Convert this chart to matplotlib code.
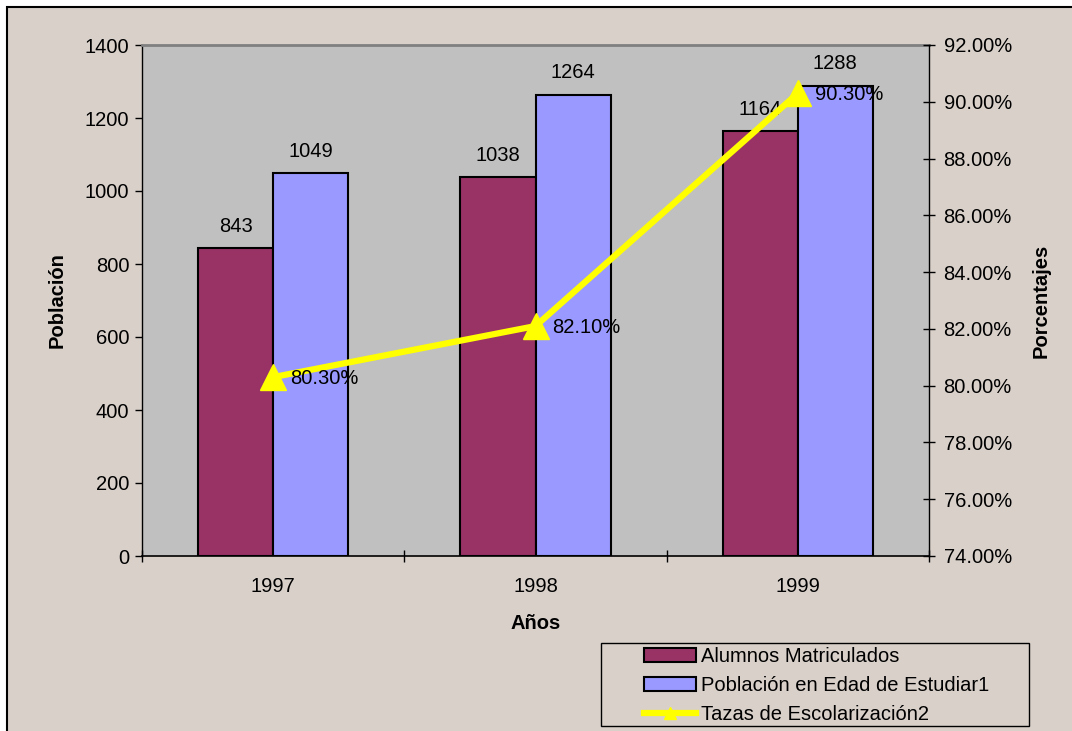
import numpy as np
import matplotlib.pyplot as plt
from matplotlib.patches import Rectangle
from matplotlib.lines import Line2D
from matplotlib.ticker import FixedLocator

plt.rcParams['font.family'] = ['Liberation Sans', 'DejaVu Sans']

years = ['1997', '1998', '1999']
matriculados = [843, 1038, 1164]
poblacion = [1049, 1264, 1288]
tasas = [80.30, 82.10, 90.30]

bg = '#d9d0ca'
maroon = '#993366'
blue = '#9999ff'
yellow = '#ffff00'
fs = 14.5

fig = plt.figure(figsize=(10.72, 7.31), dpi=100)
fig.patch.set_facecolor('white')
# beige chart area with black top/left border (right/bottom fall outside the image)
fig.add_artist(Rectangle((7 / 1072, -0.05), 1.1, 1.05 - 7 / 731, transform=fig.transFigure,
                         facecolor=bg, edgecolor='black', linewidth=1.5, zorder=-10))

ax = fig.add_axes([142 / 1072, 175 / 731, 787 / 1072, 511 / 731])
ax.set_facecolor('#c0c0c0')
x = np.arange(len(years))
w = 0.286
b1 = ax.bar(x - w / 2, matriculados, w, color=maroon, edgecolor='black', linewidth=1.5, zorder=2)
b2 = ax.bar(x + w / 2, poblacion, w, color=blue, edgecolor='black', linewidth=1.5, zorder=2)
for bars, vals in [(b1, matriculados), (b2, poblacion)]:
    for r, v in zip(bars, vals):
        ax.annotate(str(v), (r.get_x() + r.get_width() / 2, v), xytext=(0, 9),
                    textcoords='offset points', ha='center', va='bottom', fontsize=fs, zorder=5)

ax.set_xlim(-0.5, 2.5)
ax.set_ylim(0, 1400)
ax.set_yticks(range(0, 1401, 200))
ax.set_xticks(x)
ax.set_xticklabels(years)
ax.xaxis.set_minor_locator(FixedLocator([-0.5, 0.5, 1.5, 2.5]))
ax.tick_params(axis='x', which='major', length=0, pad=15, labelsize=fs)
ax.tick_params(axis='x', which='minor', direction='inout', length=9, width=1)
ax.tick_params(axis='y', direction='out', length=5, width=1, labelsize=fs, pad=4)
ax.set_xlabel('Años', fontsize=fs, fontweight='bold', labelpad=13)
ax.set_ylabel('Población', fontsize=fs, fontweight='bold', labelpad=13)
ax.spines['top'].set_color('#808080')
ax.spines['top'].set_linewidth(2)
ax.spines['right'].set_visible(False)
ax.spines['left'].set_linewidth(1)
ax.spines['bottom'].set_linewidth(1.2)

ax2 = ax.twinx()
ax2.set_ylim(74, 92)
ax2.set_yticks(np.arange(74, 92.1, 2))
ax2.set_yticklabels([f'{t:.2f}%' for t in np.arange(74, 92.1, 2)])
ax2.tick_params(axis='y', direction='inout', length=9, width=1, labelsize=fs, pad=6)
ax2.plot(x, tasas, color=yellow, linewidth=4.5, marker='^', markersize=19,
         markerfacecolor=yellow, markeredgecolor=yellow, zorder=4)
for xi, t in zip(x, tasas):
    ax2.annotate(f'{t:.2f}%', (xi, t), xytext=(12, -1), textcoords='offset points',
                 ha='left', va='center', fontsize=fs, zorder=5)
ax2.set_ylabel('Porcentajes', fontsize=fs, fontweight='bold', labelpad=14)
for s in ['top', 'left', 'bottom']:
    ax2.spines[s].set_visible(False)
ax2.spines['right'].set_linewidth(1)

# legend
fig.add_artist(Rectangle((601 / 1072, 5 / 731), 428 / 1072, 83 / 731, transform=fig.transFigure,
                         facecolor=bg, edgecolor='black', linewidth=1))
handles = [
    Rectangle((0, 0), 1, 1, facecolor=maroon, edgecolor='black', linewidth=1.5),
    Rectangle((0, 0), 1, 1, facecolor=blue, edgecolor='black', linewidth=1.5),
    Line2D([], [], color=yellow, linewidth=4.5, marker='^', markersize=8,
           markerfacecolor=yellow, markeredgecolor=yellow),
]
labels = ['Alumnos Matriculados', 'Población en Edad de Estudiar1', 'Tazas de Escolarización2']
fig.legend(handles, labels, loc='upper left', bbox_to_anchor=(642 / 1072, 1 - 645 / 731),
           frameon=False, fontsize=fs, handlelength=2.6, handleheight=0.65,
           handletextpad=0.25, labelspacing=0.5, borderpad=0.1, borderaxespad=0)

fig.savefig('out.png', dpi=100, facecolor=fig.get_facecolor())
